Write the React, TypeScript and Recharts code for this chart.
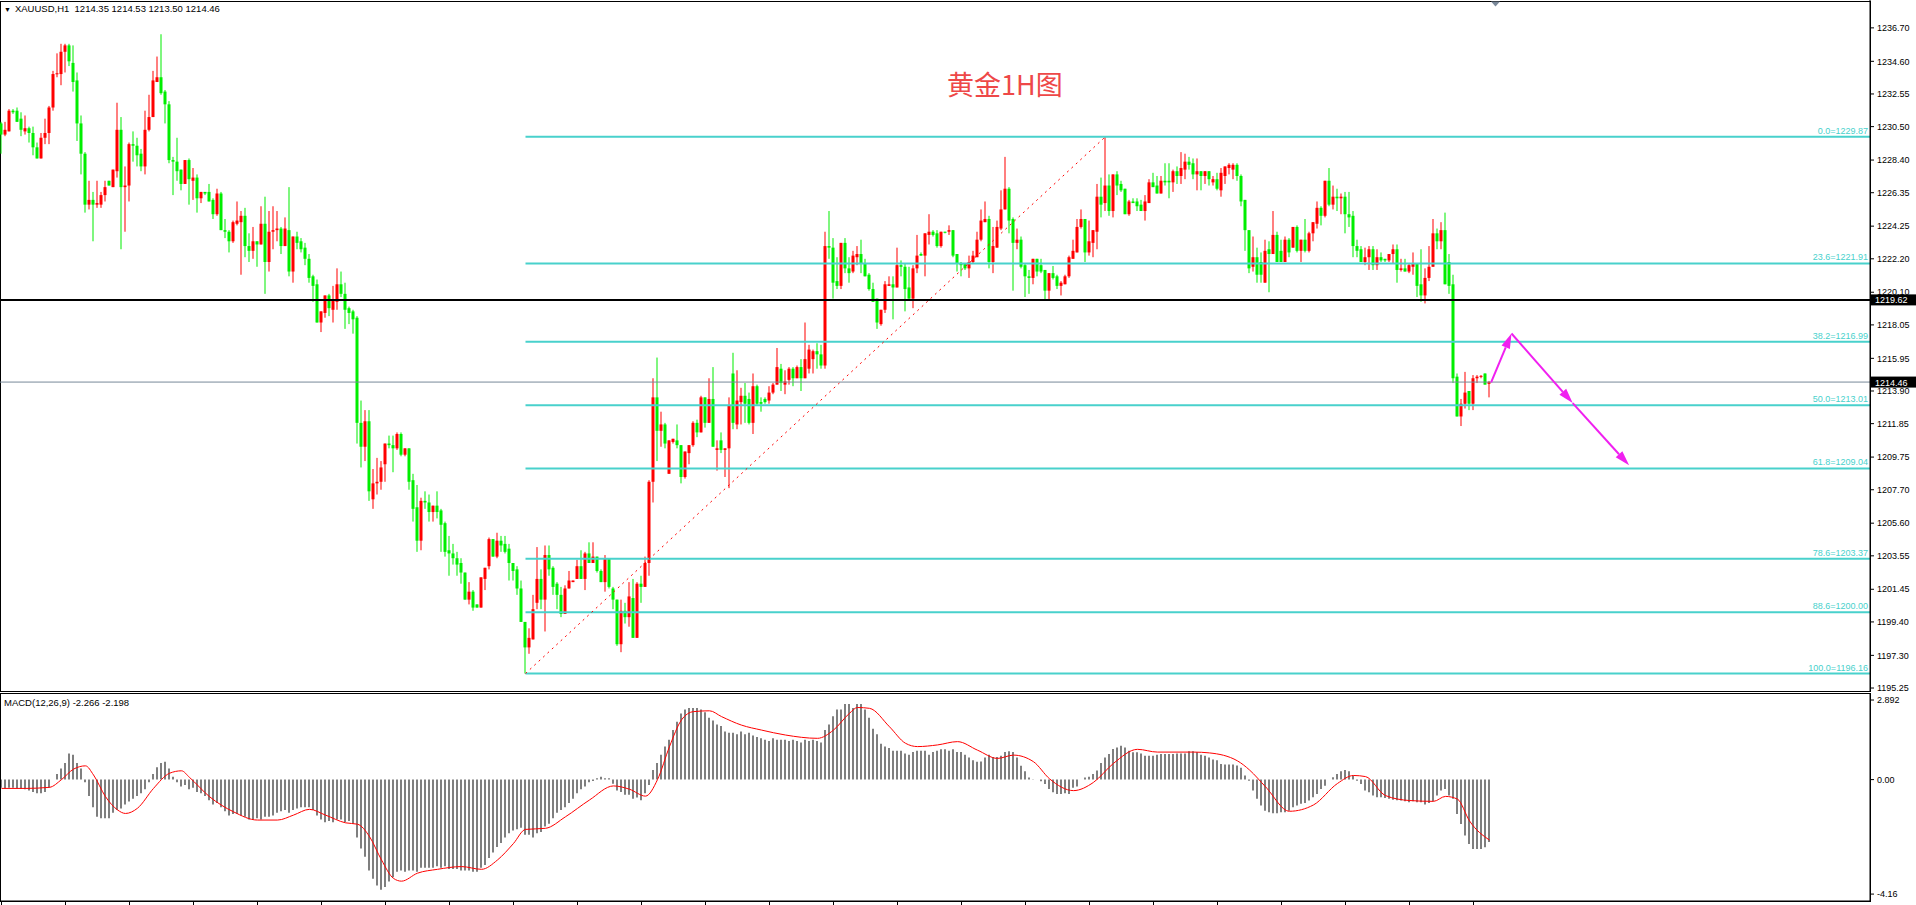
import React from 'react'
import { ComposedChart, Bar, Line, XAxis, YAxis, ReferenceLine, ReferenceDot } from 'recharts'

// XAUUSD H1 candles (373 bars, oldest first)
const opens = [
  1230.7,1230.0,1230.2,1231.5,1231.5,1231.0,1230.2,1230.4,1230.1,1229.2,
  1228.5,1229.8,1230.1,1231.7,1233.8,1233.8,1235.2,1235.6,1234.5,1233.4,
  1230.7,1228.8,1225.6,1225.9,1225.6,1225.6,1226.2,1227.1,1226.7,1227.7,
  1230.3,1226.7,1226.8,1229.4,1229.3,1228.8,1228.0,1230.3,1231.1,1233.3,
  1233.6,1232.7,1231.9,1228.4,1228.3,1227.8,1226.9,1228.4,1227.1,1227.3,
  1226.0,1226.4,1226.4,1225.9,1225.0,1226.3,1224.0,1223.9,1223.3,1224.4,
  1224.5,1224.9,1223.0,1222.7,1223.3,1223.1,1224.4,1222.0,1223.9,1224.0,
  1224.1,1223.0,1224.0,1221.4,1223.6,1223.3,1222.9,1222.2,1221.1,1220.6,
  1218.2,1218.8,1219.9,1219.0,1219.5,1220.6,1220.0,1219.1,1218.9,1218.5,
  1211.9,1210.4,1212.0,1207.1,1208.1,1208.2,1209.3,1210.6,1210.5,1210.3,
  1211.2,1209.9,1210.3,1208.3,1206.6,1204.5,1207.0,1206.9,1206.3,1206.7,
  1206.4,1205.6,1203.9,1203.7,1203.4,1203.1,1202.5,1200.8,1201.3,1200.5,
  1200.3,1202.1,1202.9,1204.6,1203.5,1204.5,1204.3,1204.0,1203.1,1202.7,
  1201.5,1199.4,1197.8,1198.3,1200.6,1202.1,1200.8,1203.6,1202.8,1201.8,
  1201.1,1199.9,1201.5,1201.9,1202.1,1202.9,1202.1,1203.7,1203.1,1203.5,
  1202.6,1201.9,1203.4,1201.5,1200.8,1198.0,1200.1,1199.7,1200.9,1198.4,
  1201.8,1201.6,1203.1,1208.2,1213.5,1211.4,1211.8,1208.7,1210.7,1210.8,
  1210.5,1208.5,1210.0,1210.5,1211.9,1211.3,1213.5,1211.9,1213.4,1210.2,
  1210.8,1210.2,1210.3,1215.0,1211.8,1213.2,1213.6,1213.4,1211.9,1214.2,
  1213.2,1213.4,1213.3,1213.8,1214.3,1215.3,1214.3,1214.6,1215.3,1214.7,
  1215.4,1214.7,1215.3,1215.9,1216.4,1216.2,1215.5,1223.0,1222.9,1220.8,
  1220.5,1223.2,1221.6,1221.4,1222.3,1222.5,1221.9,1221.2,1220.3,1219.7,
  1218.1,1219.0,1220.5,1220.6,1220.4,1221.8,1221.7,1220.4,1219.7,1221.6,
  1222.5,1222.4,1223.7,1223.9,1223.8,1223.0,1223.9,1223.9,1224.0,1222.5,
  1221.9,1221.9,1221.6,1222.0,1222.3,1223.4,1224.5,1224.7,1222.0,1222.9,
  1224.1,1225.3,1226.6,1224.7,1223.2,1223.4,1221.8,1221.1,1221.0,1222.2,
  1221.8,1221.5,1220.2,1221.3,1221.1,1220.5,1220.6,1221.1,1222.2,1222.6,
  1224.2,1224.7,1222.6,1223.2,1223.9,1226.1,1225.7,1226.8,1225.2,1227.5,
  1226.9,1226.6,1225.0,1225.8,1225.8,1225.6,1225.2,1225.7,1227.0,1226.8,
  1226.3,1227.1,1227.1,1227.0,1227.7,1227.4,1227.8,1228.3,1228.2,1227.5,
  1227.7,1227.4,1227.7,1227.0,1227.2,1226.5,1227.4,1227.9,1227.8,1228.1,
  1227.4,1225.9,1224.0,1221.7,1222.3,1222.0,1220.7,1222.8,1222.5,1223.7,
  1222.7,1222.0,1223.4,1222.9,1224.2,1222.7,1223.4,1222.7,1223.8,1224.4,
  1225.4,1224.9,1227.1,1225.6,1226.1,1226.0,1226.1,1225.0,1224.9,1223.0,
  1222.8,1222.0,1222.3,1222.8,1221.8,1222.3,1222.2,1222.1,1222.5,1222.8,
  1221.5,1221.6,1221.4,1221.7,1221.9,1220.6,1219.9,1221.0,1221.7,1223.8,
  1223.3,1224.0,1222.0,1220.6,1214.8,1212.3,1213.1,1213.9,1213.1,1214.7,
  1214.8,1215.0,1214.35,
]
const highs = [
  1230.8,1230.8,1231.6,1231.6,1231.7,1231.4,1231.2,1230.5,1230.5,1229.5,
  1230.1,1231.0,1231.8,1234.0,1235.1,1235.7,1235.7,1235.7,1235.6,1233.9,
  1231.2,1228.9,1227.1,1226.4,1227.1,1226.4,1227.1,1227.1,1227.8,1232.0,
  1231.1,1228.0,1229.5,1230.2,1229.8,1229.1,1231.5,1232.5,1234.0,1234.9,
  1236.3,1232.8,1232.1,1228.6,1229.8,1227.8,1228.4,1228.5,1227.9,1227.5,
  1226.4,1226.4,1226.9,1226.0,1226.6,1226.4,1224.7,1224.0,1224.6,1225.8,
  1225.2,1225.4,1223.8,1224.2,1223.3,1225.5,1226.1,1225.2,1225.5,1225.2,
  1224.2,1224.8,1226.7,1223.6,1223.9,1223.5,1223.2,1222.5,1221.2,1220.9,
  1218.9,1219.9,1220.0,1220.5,1221.6,1221.4,1220.7,1219.2,1219.0,1218.6,
  1213.3,1212.7,1212.7,1209.0,1209.7,1209.5,1210.6,1211.1,1211.1,1211.3,
  1211.3,1210.3,1210.3,1208.7,1208.0,1207.2,1207.6,1207.4,1206.7,1207.6,
  1206.5,1205.7,1204.8,1204.3,1203.8,1203.4,1202.5,1201.9,1201.4,1200.5,
  1202.2,1202.8,1204.7,1204.6,1205.0,1204.8,1204.8,1204.3,1203.1,1202.9,
  1202.0,1199.4,1199.0,1201.1,1204.1,1202.7,1204.2,1204.2,1202.9,1201.9,
  1201.6,1201.7,1202.6,1202.0,1203.3,1203.9,1203.8,1204.4,1204.4,1203.5,
  1202.7,1203.6,1203.4,1201.6,1200.8,1200.8,1200.6,1201.9,1202.1,1201.9,
  1202.3,1203.5,1208.3,1214.7,1216.0,1212.6,1211.9,1210.8,1210.9,1211.8,
  1210.5,1210.1,1210.5,1212.0,1212.1,1213.6,1213.5,1214.7,1215.4,1210.8,
  1211.3,1210.3,1213.5,1216.3,1215.2,1214.1,1214.4,1213.8,1215.0,1214.3,
  1213.5,1213.5,1214.2,1214.4,1216.6,1215.6,1215.2,1215.4,1215.4,1215.5,
  1215.9,1218.2,1216.8,1216.5,1216.9,1216.8,1223.9,1225.2,1223.5,1222.3,
  1223.2,1223.5,1222.3,1222.7,1223.0,1223.4,1222.2,1221.3,1220.7,1219.7,
  1219.0,1220.8,1221.1,1221.1,1222.9,1222.1,1221.9,1221.7,1221.8,1223.7,
  1222.6,1223.8,1225.0,1224.0,1224.0,1223.9,1223.9,1224.3,1224.0,1222.5,
  1222.0,1221.9,1222.4,1222.7,1223.9,1225.3,1225.8,1224.9,1224.2,1224.6,
  1226.5,1228.6,1226.7,1224.8,1224.1,1223.6,1221.9,1221.5,1222.2,1222.2,
  1222.2,1221.5,1221.3,1221.75,1221.2,1220.8,1221.2,1222.4,1223.4,1224.7,
  1225.3,1224.7,1224.6,1224.0,1226.9,1227.3,1229.87,1227.5,1227.5,1227.7,
  1227.1,1226.6,1225.9,1226.0,1226.0,1225.9,1226.2,1227.2,1227.6,1227.4,
  1227.4,1228.2,1228.2,1227.8,1228.0,1228.9,1228.8,1228.6,1228.5,1228.5,
  1227.7,1227.7,1227.7,1227.4,1227.6,1227.9,1228.0,1228.2,1228.2,1228.2,
  1227.5,1225.9,1224.0,1223.6,1222.9,1222.6,1223.4,1223.3,1225.2,1223.9,
  1223.4,1223.6,1223.5,1224.2,1224.3,1223.4,1224.7,1223.9,1224.5,1225.8,
  1225.5,1227.1,1227.9,1226.8,1226.6,1226.3,1226.4,1226.4,1225.2,1223.4,
  1223.0,1222.9,1223.0,1223.0,1222.8,1222.6,1222.2,1222.5,1223.1,1223.1,
  1222.2,1222.2,1221.9,1222.6,1221.9,1222.8,1221.6,1223.0,1224.7,1224.1,
  1224.5,1225.1,1222.5,1221.2,1215.0,1213.4,1215.1,1213.9,1214.9,1214.9,
  1214.9,1215.0,1214.53,
]
const lows = [
  1228.8,1229.9,1230.2,1231.3,1230.8,1229.9,1230.0,1229.5,1228.7,1228.5,
  1228.5,1229.4,1229.4,1231.5,1233.6,1233.1,1233.9,1234.3,1232.7,1229.6,
  1227.5,1225.1,1225.3,1223.3,1225.4,1225.4,1225.8,1226.8,1226.7,1227.3,
  1222.8,1223.9,1225.8,1228.3,1228.0,1227.7,1227.5,1230.2,1231.1,1233.3,
  1232.5,1230.7,1228.2,1226.2,1227.1,1226.5,1226.9,1225.6,1225.9,1225.1,
  1225.7,1226.2,1225.8,1224.7,1224.9,1224.0,1223.5,1222.6,1223.2,1224.3,
  1221.2,1222.3,1222.0,1222.2,1221.7,1223.1,1220.0,1221.4,1222.8,1223.3,
  1222.5,1223.0,1221.1,1220.7,1222.8,1222.6,1221.8,1220.7,1219.5,1218.2,
  1217.6,1218.5,1218.6,1218.2,1219.0,1219.8,1217.8,1218.1,1217.5,1210.6,
  1209.1,1209.5,1207.0,1206.5,1207.4,1207.7,1208.2,1210.3,1208.8,1210.2,
  1209.8,1209.8,1207.7,1205.7,1203.8,1203.9,1206.5,1205.7,1205.7,1205.9,
  1203.8,1203.5,1202.3,1203.0,1202.3,1201.8,1200.8,1200.5,1200.1,1200.3,
  1200.3,1201.4,1202.7,1203.5,1203.4,1203.8,1203.7,1202.0,1202.0,1201.1,
  1199.4,1196.16,1197.4,1198.3,1200.2,1200.2,1198.8,1202.3,1201.1,1200.2,
  1199.7,1199.9,1201.5,1201.9,1202.1,1202.1,1201.4,1203.1,1203.1,1202.5,
  1201.9,1201.3,1201.5,1200.2,1197.9,1197.5,1199.3,1199.1,1198.4,1198.4,
  1200.6,1201.6,1202.3,1206.9,1209.5,1210.4,1210.3,1208.7,1210.6,1210.3,
  1208.1,1208.4,1209.3,1210.4,1211.0,1211.3,1211.6,1211.9,1210.4,1208.9,
  1210.0,1208.5,1207.8,1211.5,1211.5,1211.8,1211.9,1211.8,1211.2,1213.0,
  1212.6,1213.1,1213.1,1213.7,1214.3,1213.9,1213.7,1214.3,1214.2,1214.7,
  1213.9,1214.7,1215.0,1215.0,1215.3,1215.3,1215.3,1222.2,1219.7,1220.3,
  1220.3,1221.3,1220.7,1221.3,1221.8,1221.3,1221.1,1220.2,1219.5,1217.8,
  1218.0,1218.8,1220.5,1218.4,1220.4,1221.1,1218.9,1219.7,1219.1,1221.3,
  1222.4,1221.1,1223.1,1223.6,1222.9,1222.9,1223.8,1223.7,1222.3,1221.4,
  1221.1,1221.5,1221.0,1221.9,1222.3,1223.3,1224.5,1221.6,1221.3,1222.9,
  1224.0,1225.3,1223.8,1220.2,1222.8,1221.6,1219.8,1220.0,1220.6,1221.1,
  1221.3,1219.6,1219.6,1220.9,1220.3,1219.9,1220.6,1221.0,1222.2,1222.6,
  1224.1,1222.0,1222.4,1222.3,1222.8,1224.8,1225.2,1224.9,1224.8,1226.2,
  1226.4,1225.0,1224.9,1225.7,1225.2,1225.2,1224.6,1225.7,1226.7,1226.3,
  1226.3,1226.8,1226.0,1226.4,1226.9,1226.9,1227.2,1227.8,1227.2,1226.5,
  1226.5,1226.9,1226.8,1226.8,1226.5,1226.1,1226.9,1227.5,1227.2,1227.1,
  1225.5,1222.7,1221.3,1221.4,1220.7,1220.7,1220.7,1220.1,1222.5,1222.0,
  1222.0,1222.0,1222.3,1222.9,1222.6,1222.0,1222.6,1222.6,1223.3,1224.1,
  1224.3,1224.8,1225.5,1225.3,1225.2,1225.0,1223.8,1224.2,1222.3,1222.3,
  1222.0,1221.8,1221.5,1221.5,1221.5,1222.0,1222.0,1222.0,1221.9,1220.7,
  1221.4,1221.4,1221.3,1221.2,1219.8,1219.5,1219.4,1220.8,1221.7,1222.8,
  1222.8,1220.6,1220.0,1214.4,1212.3,1211.7,1212.8,1212.7,1212.7,1214.4,
  1214.7,1214.3,1213.50,
]
const closes = [
  1230.0,1230.3,1231.5,1231.4,1230.8,1230.3,1230.4,1230.1,1229.2,1228.5,
  1229.8,1230.1,1231.7,1233.8,1233.85,1235.2,1235.6,1234.6,1233.3,1230.7,
  1228.8,1225.6,1225.9,1225.6,1225.7,1226.2,1226.7,1226.8,1227.8,1230.3,
  1226.7,1226.8,1229.4,1229.3,1228.7,1228.0,1230.3,1231.1,1233.4,1233.6,
  1232.6,1231.9,1228.4,1228.3,1227.7,1226.9,1228.4,1227.2,1227.3,1226.0,
  1226.4,1226.3,1225.8,1225.0,1226.3,1224.0,1223.9,1223.3,1224.5,1224.6,
  1224.9,1223.0,1222.7,1223.3,1223.1,1224.4,1222.0,1223.9,1224.0,1224.1,
  1223.0,1224.1,1221.4,1223.6,1223.2,1222.8,1222.2,1221.0,1220.5,1218.2,
  1218.9,1219.9,1219.1,1219.6,1220.6,1220.0,1219.0,1218.8,1218.4,1211.9,
  1210.4,1212.0,1207.6,1208.1,1208.2,1209.1,1210.6,1210.5,1210.3,1211.2,
  1209.9,1210.3,1208.2,1206.5,1204.5,1207.0,1206.9,1206.3,1206.7,1206.3,
  1205.5,1203.8,1203.7,1203.4,1203.0,1202.5,1200.8,1201.3,1200.3,1200.3,
  1202.2,1202.8,1204.6,1203.5,1204.5,1204.2,1203.8,1203.1,1202.6,1201.5,
  1199.4,1197.8,1198.4,1200.2,1202.1,1200.8,1203.6,1202.7,1201.6,1201.1,
  1199.9,1201.5,1202.0,1202.0,1202.9,1202.1,1203.7,1203.1,1203.5,1202.6,
  1201.9,1203.4,1201.6,1200.8,1198.0,1200.1,1199.7,1201.0,1198.4,1201.8,
  1201.6,1203.1,1208.2,1213.5,1211.4,1211.8,1210.6,1210.8,1210.9,1210.5,
  1208.5,1210.1,1210.5,1211.9,1211.3,1213.5,1211.9,1213.4,1210.4,1210.3,
  1210.2,1210.3,1213.0,1211.9,1213.3,1213.6,1213.1,1211.9,1214.2,1213.1,
  1213.1,1213.2,1213.8,1214.3,1215.4,1214.4,1214.5,1215.3,1214.7,1215.4,
  1214.7,1215.9,1216.5,1216.4,1216.2,1215.5,1223.0,1222.9,1220.7,1220.5,
  1223.2,1221.6,1221.3,1222.4,1222.5,1221.9,1221.1,1220.3,1219.5,1218.2,
  1219.0,1220.6,1220.6,1220.4,1221.8,1221.7,1220.3,1219.7,1221.6,1222.4,
  1222.4,1223.8,1223.9,1223.7,1223.0,1223.9,1223.85,1224.0,1222.4,1221.9,
  1221.8,1221.6,1222.0,1222.4,1223.4,1224.6,1224.7,1222.0,1223.0,1224.2,
  1225.3,1226.6,1224.6,1223.2,1223.4,1221.7,1221.1,1221.0,1222.2,1221.4,
  1221.4,1220.2,1221.3,1221.0,1220.5,1220.7,1221.1,1222.3,1222.7,1224.2,
  1224.7,1222.6,1223.3,1224.0,1226.1,1225.6,1226.8,1225.2,1227.5,1226.8,
  1226.5,1225.0,1225.8,1225.7,1225.5,1225.2,1225.8,1227.0,1226.7,1226.3,
  1227.1,1227.0,1227.0,1227.7,1227.4,1227.9,1228.3,1228.1,1227.5,1227.7,
  1227.4,1227.7,1227.2,1227.2,1226.6,1227.6,1228.0,1228.1,1228.1,1227.4,
  1225.8,1224.0,1221.6,1222.3,1221.2,1221.2,1222.7,1222.5,1223.7,1222.0,
  1222.0,1223.4,1222.6,1224.2,1222.7,1223.4,1222.7,1223.8,1224.5,1225.4,
  1224.9,1227.1,1225.6,1226.1,1226.0,1226.1,1225.0,1224.8,1223.0,1222.7,
  1222.0,1222.3,1222.8,1221.8,1222.3,1222.1,1222.1,1222.5,1222.8,1221.5,
  1221.6,1221.4,1221.8,1221.9,1220.5,1219.9,1221.0,1221.7,1223.8,1223.3,
  1224.0,1220.6,1220.5,1214.7,1212.3,1213.1,1213.8,1213.1,1214.7,1214.8,
  1214.85,1214.3,1214.46,
]

// MACD(12,26,9) main line, drawn as the histogram
const macdHist = [
  -0.3,-0.32,-0.3,-0.3,-0.32,-0.33,-0.35,-0.4,-0.45,-0.5,
  -0.5,-0.45,-0.3,0.0,0.2,0.4,0.6,0.95,0.9,0.6,
  0.4,-0.1,-0.6,-1.0,-1.35,-1.4,-1.4,-1.4,-1.2,-1.1,
  -1.05,-0.9,-0.8,-0.7,-0.6,-0.5,-0.35,-0.1,0.2,0.45,
  0.6,0.65,0.4,0.1,-0.1,-0.25,-0.2,-0.35,-0.3,-0.45,
  -0.5,-0.6,-0.75,-0.9,-0.85,-1.0,-1.15,-1.3,-1.25,-1.25,
  -1.3,-1.35,-1.45,-1.45,-1.4,-1.45,-1.35,-1.35,-1.3,-1.2,
  -1.15,-1.1,-1.2,-1.1,-1.05,-1.0,-1.0,-1.0,-1.1,-1.3,
  -1.45,-1.55,-1.5,-1.55,-1.45,-1.45,-1.55,-1.5,-1.6,-2.1,
  -2.5,-2.8,-3.3,-3.6,-3.85,-4.0,-3.9,-3.7,-3.55,-3.35,
  -3.3,-3.35,-3.3,-3.3,-3.35,-3.2,-3.2,-3.2,-3.2,-3.15,
  -3.2,-3.15,-3.25,-3.25,-3.25,-3.3,-3.3,-3.3,-3.35,-3.35,
  -3.2,-3.1,-2.85,-2.65,-2.45,-2.3,-2.1,-1.95,-1.85,-1.8,
  -1.75,-2.0,-2.0,-2.1,-1.95,-1.9,-1.7,-1.6,-1.4,-1.2,
  -1.1,-1.0,-0.85,-0.7,-0.5,-0.35,-0.25,-0.1,-0.05,0.05,
  0.1,0.05,0.05,-0.15,-0.4,-0.45,-0.55,-0.55,-0.7,-0.65,
  -0.75,-0.5,-0.2,0.35,0.6,0.9,1.2,1.45,1.8,2.1,
  2.4,2.55,2.6,2.6,2.6,2.55,2.45,2.25,2.15,2.0,
  1.95,1.75,1.7,1.7,1.65,1.75,1.65,1.7,1.6,1.55,
  1.5,1.45,1.4,1.5,1.45,1.45,1.45,1.4,1.45,1.4,
  1.35,1.45,1.4,1.45,1.4,1.35,1.8,2.0,2.3,2.55,
  2.55,2.75,2.75,2.6,2.75,2.75,2.55,2.25,1.85,1.65,
  1.3,1.2,1.15,1.05,1.05,1.05,0.95,0.9,1.0,1.05,
  1.05,1.05,0.9,1.0,1.05,1.1,1.1,1.05,1.1,1.0,
  1.0,0.9,0.8,0.7,0.65,0.66,0.8,0.9,0.82,0.82,
  0.87,1.0,1.03,1.0,0.8,0.5,0.3,0.08,0.01,0.0,
  -0.06,-0.16,-0.34,-0.46,-0.52,-0.52,-0.5,-0.52,-0.3,-0.25,
  0.0,0.08,0.1,0.2,0.33,0.6,0.8,0.93,1.11,1.17,
  1.23,1.17,1.05,0.99,0.99,0.95,0.87,0.87,0.87,0.9,
  0.93,0.93,0.93,0.93,0.95,0.95,0.95,1.03,1.03,0.99,
  0.9,0.87,0.8,0.73,0.7,0.57,0.55,0.55,0.55,0.51,
  0.43,0.15,-0.04,-0.4,-0.7,-0.94,-1.13,-1.19,-1.22,-1.22,
  -1.19,-1.19,-1.13,-1.0,-0.94,-0.88,-0.85,-0.76,-0.64,-0.52,
  -0.34,-0.22,0.0,0.09,0.2,0.3,0.35,0.3,0.15,-0.04,
  -0.16,-0.4,-0.46,-0.58,-0.64,-0.64,-0.67,-0.7,-0.73,-0.75,
  -0.76,-0.79,-0.82,-0.79,-0.82,-0.82,-0.9,-0.85,-0.79,-0.58,
  -0.4,-0.34,-0.58,-0.7,-1.25,-1.61,-2.03,-2.34,-2.52,-2.52,
  -2.52,-2.46,-2.266,
]

// signal line, read at the bars where its shape is clearest
const signalAt = [
  0, 6, 12, 15, 18, 21, 23, 26, 29, 31, 34, 38, 42, 45, 47, 52, 58, 64, 69, 73,
  77, 81, 86, 89, 92, 95, 98, 100, 104, 109, 115, 120, 124, 128, 131, 136, 141, 147, 153, 157,
  161, 164, 167, 170, 173, 177, 180, 185, 190, 196, 204, 208, 212, 214, 217, 222, 226, 229, 234, 239,
  244, 249, 253, 258, 262, 268, 273, 278, 284, 289, 298, 302, 309, 312, 316, 322, 328, 334, 338, 341,
  346, 352, 358, 361, 364, 367, 372,
]
const signalVal = [
  -0.32, -0.32, -0.28, 0.0, 0.38, 0.5, 0.17, -0.62, -1.1, -1.23, -1.04, -0.32, 0.23, 0.32, 0.08, -0.62, -1.17, -1.47, -1.47, -1.29,
  -1.08, -1.29, -1.57, -1.62, -2.07, -2.92, -3.59, -3.69, -3.4, -3.26, -3.16, -3.26, -2.92, -2.32, -1.81, -1.77, -1.35, -0.74, -0.23, -0.35,
  -0.6, 0.0, 1.2, 2.17, 2.47, 2.5, 2.29, 1.98, 1.8, 1.62, 1.5, 1.8, 2.41, 2.62, 2.59, 1.92, 1.32, 1.2, 1.26, 1.38,
  1.07, 0.77, 0.89, 0.65, 0.03, -0.4, -0.1, 0.59, 1.1, 1.0, 1.0, 0.97, 0.68, 0.35, -0.26, -1.15, -0.92, -0.14, 0.15, 0.11,
  -0.58, -0.76, -0.79, -0.61, -0.71, -1.5, -2.198,
]

const priceTicks = [1236.70, 1234.60, 1232.55, 1230.50, 1228.40, 1226.35, 1224.25, 1222.20, 1220.10, 1218.05,
  1215.95, 1213.90, 1211.85, 1209.75, 1207.70, 1205.60, 1203.55, 1201.45, 1199.40, 1197.30, 1195.25]
const fibNames = ['0.0', '23.6', '38.2', '50.0', '61.8', '78.6', '88.6', '100.0']
const fibPrices = [1229.87, 1221.91, 1216.99, 1213.01, 1209.04, 1203.37, 1200.00, 1196.16]
const fibStart = 131
const trendFrom = { at: 131, price: 1196.16 }
const trendTo = { at: 276, price: 1229.87 }
const blackLevel = 1219.62
const bidLevel = 1214.46
const arrowAt = [372.4, 377.5, 392.8, 406.9]
const arrowPrice = [1214.44, 1217.51, 1213.14, 1209.23]
const macdTicks = [2.892, 0, -4.16]
const macdTickLabels = ['2.892', '0.00', '-4.16']
const timeTicks = [0, 16, 32, 48, 64, 80, 96, 112, 128, 144, 160, 176, 192, 208, 224, 240, 256, 272, 288, 304, 320, 336, 352, 368]

const UP = '#ff0000'
const DOWN = '#00ee00'
const FIB = '#48d1cc'
const ARROW = '#f020f0'
const FONT = '"Liberation Sans", Arial, sans-serif'
const X_DOMAIN = [-0.375, 467.125]
const X_END = X_DOMAIN[1]

const rows = opens.map((o, i) => ({
  i,
  open: o,
  high: highs[i],
  low: lows[i],
  close: closes[i],
  range: [lows[i], highs[i]],
  macd: macdHist[i],
  signal: undefined as number | undefined,
}))
signalAt.forEach((k, j) => { if (rows[k]) rows[k].signal = signalVal[j] })

function Candle(props: any) {
  const { x, y, width, height, payload } = props
  if (x == null || y == null || !payload) return null
  const top = Math.min(y, y + height)
  const h = Math.abs(height)
  const { open, close, high, low } = payload
  const cx = x + width / 2
  const k = high > low ? h / (high - low) : 0
  const bTop = top + (high - Math.max(open, close)) * k
  const bBot = top + (high - Math.min(open, close)) * k
  const color = close >= open ? UP : DOWN
  return (
    <g>
      <rect x={cx - 0.5} y={top} width={1} height={Math.max(h, 1)} fill={color} />
      <rect x={cx - 1.5} y={bTop} width={3} height={Math.max(bBot - bTop, 1)} fill={color} />
    </g>
  )
}

function fibShape(name: string, price: number) {
  return (p: any) => {
    const xr = Math.max(p.x1, p.x2)
    return (
      <g>
        <line x1={p.x1} y1={p.y1} x2={p.x2} y2={p.y2} stroke={FIB} strokeWidth={2} />
        <text x={xr - 2} y={p.y1 - 3} textAnchor="end" fontSize={9} fontFamily={FONT} fill={FIB}>
          {name}={price.toFixed(2)}
        </text>
      </g>
    )
  }
}

function priceTag(value: number, stroke: string, width: number) {
  return (p: any) => {
    const xr = Math.max(p.x1, p.x2)
    return (
      <g>
        <line x1={p.x1} y1={p.y1} x2={p.x2} y2={p.y2} stroke={stroke} strokeWidth={width} />
        <rect x={xr + 1} y={p.y1 - 5.5} width={45} height={11} fill="#000" />
        <text x={xr + 5} y={p.y1 + 3.5} fontSize={9} fontFamily={FONT} fill="#fff">{value.toFixed(2)}</text>
      </g>
    )
  }
}

function arrowShape(p: any) {
  const dx = p.x2 - p.x1
  const dy = p.y2 - p.y1
  const len = Math.sqrt(dx * dx + dy * dy) || 1
  const ux = dx / len
  const uy = dy / len
  const hl = 15
  const hw = 4.5
  const bx = p.x2 - ux * hl
  const by = p.y2 - uy * hl
  const pts = `${p.x2},${p.y2} ${bx - uy * hw},${by + ux * hw} ${bx + uy * hw},${by - ux * hw}`
  return (
    <g>
      <line x1={p.x1} y1={p.y1} x2={bx} y2={by} stroke={ARROW} strokeWidth={2} />
      <polygon points={pts} fill={ARROW} />
    </g>
  )
}

const shiftMarker = (p: any) => (
  <polygon points={`${p.cx - 4.5},${p.cy - 1} ${p.cx + 4.5},${p.cy - 1} ${p.cx},${p.cy + 4}`} fill="#7a8899" />
)

export default function App() {
  return (
    <div style={{ position: 'absolute', left: 0, top: 0, width: 1916, height: 905, background: '#fff', overflow: 'hidden' }}>
      <div style={{ position: 'absolute', left: 0, top: 1, width: 1871, height: 691, border: '1px solid #000', boxSizing: 'border-box' }} />
      <div style={{ position: 'absolute', left: 0, top: 693, width: 1871, height: 209, border: '1px solid #000', boxSizing: 'border-box' }} />

      <div style={{ position: 'absolute', left: 0, top: 0 }}>
        <ComposedChart width={1916} height={692} data={rows} margin={{ top: 0, right: 0, bottom: 0, left: 0 }}>
          <XAxis dataKey="i" type="number" domain={X_DOMAIN} hide allowDataOverflow />
          <YAxis
            orientation="right"
            width={46}
            domain={[1195.0, 1238.45]}
            allowDataOverflow
            ticks={priceTicks}
            interval={0}
            tickSize={4}
            tickMargin={3}
            tickFormatter={(v: number) => v.toFixed(2)}
            tick={{ fontSize: 9, fill: '#000', fontFamily: FONT, textAnchor: 'start' }}
            axisLine={{ stroke: '#000' }}
            tickLine={{ stroke: '#000' }}
          />
          <Bar dataKey="range" barSize={3} shape={(p: any) => <Candle {...p} />} isAnimationActive={false} />
          {fibPrices.map((fp, j) => (
            <ReferenceLine
              key={fibNames[j]}
              segment={[{ x: fibStart, y: fp }, { x: X_END, y: fp }]}
              shape={fibShape(fibNames[j], fp)}
            />
          ))}
          <ReferenceLine
            segment={[{ x: trendFrom.at, y: trendFrom.price }, { x: trendTo.at, y: trendTo.price }]}
            stroke={UP}
            strokeWidth={1}
            strokeDasharray="2 4"
          />
          <ReferenceLine y={blackLevel} shape={priceTag(blackLevel, '#000', 2)} />
          <ReferenceLine y={bidLevel} shape={priceTag(bidLevel, '#778899', 1)} />
          {arrowAt.slice(1).map((a, j) => (
            <ReferenceLine
              key={'arrow' + j}
              segment={[{ x: arrowAt[j], y: arrowPrice[j] }, { x: a, y: arrowPrice[j + 1] }]}
              shape={arrowShape}
            />
          ))}
          <ReferenceDot x={373.5} y={1238.3} r={4} shape={shiftMarker} />
        </ComposedChart>
      </div>

      <div style={{ position: 'absolute', left: 0, top: 693 }}>
        <ComposedChart width={1916} height={212} data={rows} margin={{ top: 0, right: 0, bottom: 0, left: 0 }}>
          <XAxis
            dataKey="i"
            type="number"
            domain={X_DOMAIN}
            allowDataOverflow
            ticks={timeTicks}
            interval={0}
            height={4}
            tickSize={4}
            tick={() => <g />}
            axisLine={{ stroke: '#000' }}
            tickLine={{ stroke: '#000' }}
          />
          <YAxis
            orientation="right"
            width={46}
            domain={[-4.411, 3.147]}
            allowDataOverflow
            ticks={macdTicks}
            interval={0}
            tickSize={4}
            tickMargin={3}
            tickFormatter={(v: number) => macdTickLabels[macdTicks.indexOf(v)] ?? String(v)}
            tick={{ fontSize: 9, fill: '#000', fontFamily: FONT, textAnchor: 'start' }}
            axisLine={{ stroke: '#000' }}
            tickLine={{ stroke: '#000' }}
          />
          <Bar dataKey="macd" barSize={1} fill="#000" isAnimationActive={false} />
          <Line dataKey="signal" type="monotone" stroke="#ff0000" strokeWidth={1} dot={false} connectNulls isAnimationActive={false} />
        </ComposedChart>
      </div>

      <div style={{ position: 'absolute', left: 4, top: 3, fontFamily: FONT, fontSize: 9.5, lineHeight: '12px', color: '#000', whiteSpace: 'pre' }}>
        <span style={{ fontSize: 7, marginRight: 4 }}>▼</span>XAUUSD,H1  1214.35 1214.53 1213.50 1214.46
      </div>
      <div style={{ position: 'absolute', left: 4, top: 697, fontFamily: FONT, fontSize: 9.5, lineHeight: '12px', color: '#000', whiteSpace: 'pre' }}>
        MACD(12,26,9) -2.266 -2.198
      </div>
      <div style={{ position: 'absolute', left: 947, top: 66, fontFamily: '"Noto Sans CJK SC", sans-serif', fontSize: 27, lineHeight: '36px', color: '#ee4848', whiteSpace: 'pre' }}>
        黄金1H图
      </div>
    </div>
  )
}
